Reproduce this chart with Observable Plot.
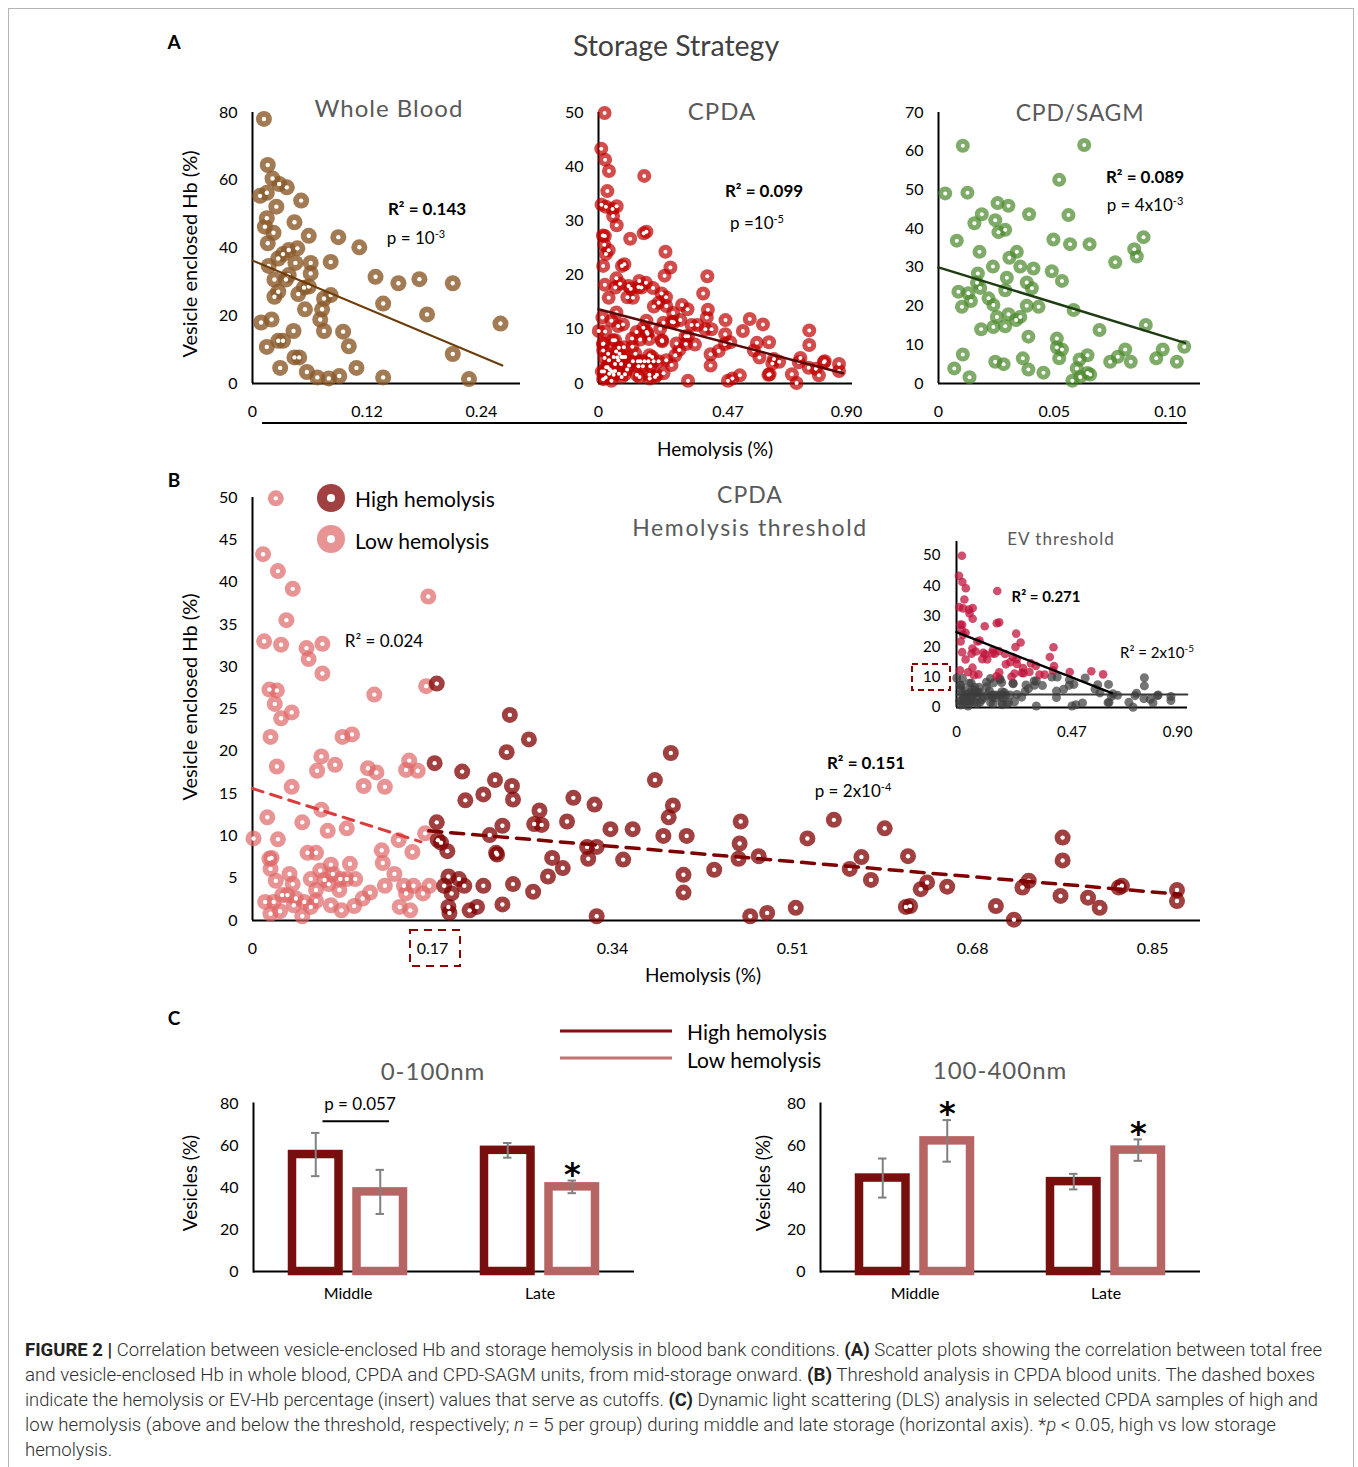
<!DOCTYPE html>
<html><head><meta charset="utf-8">
<script src="https://cdn.jsdelivr.net/npm/d3@7"></script>
<script src="https://cdn.jsdelivr.net/npm/@observablehq/plot@0.6"></script>
<style>
body{margin:0;background:#fff;}
#fig{position:relative;width:1358px;height:1467px;overflow:hidden;font-family:Lato,"Open Sans",sans-serif;background:#fff;}
.lab{position:absolute;white-space:nowrap;line-height:1;}
.cap{position:absolute;left:25px;white-space:nowrap;font-family:Roboto,"Liberation Sans",sans-serif;font-weight:300;font-size:17.5px;color:#2e2e2e;transform-origin:0 50%;line-height:1;}
.cap b{font-weight:700;color:#222;}
</style></head>
<body><div id="fig"></div>
<script>
// ---------------- DATA ----------------
// Panel A: Whole blood [hemolysis %, vesicle enclosed Hb %]
const wholeBlood = [[0.012,78.1],[0.016,64.5],[0.021,60.5],[0.036,57.9],[0.028,58.9],[0.008,55.4],[0.015,56.3],[0.025,52.2],[0.051,54.0],[0.015,48.8],[0.013,46.3],[0.022,44.5],[0.044,47.6],[0.016,41.4],[0.059,43.6],[0.090,43.2],[0.112,40.2],[0.027,36.9],[0.032,38.2],[0.038,39.4],[0.047,39.9],[0.045,35.6],[0.061,35.6],[0.082,35.9],[0.017,34.7],[0.061,32.5],[0.038,32.0],[0.035,30.7],[0.023,30.7],[0.129,31.5],[0.153,29.6],[0.175,30.8],[0.210,29.6],[0.027,27.1],[0.054,28.3],[0.059,28.6],[0.048,26.4],[0.023,25.6],[0.082,26.1],[0.075,25.1],[0.137,23.6],[0.055,21.9],[0.073,21.9],[0.071,18.9],[0.009,18.0],[0.020,18.9],[0.183,20.4],[0.260,17.7],[0.043,15.5],[0.075,15.5],[0.095,15.3],[0.015,10.8],[0.027,12.6],[0.032,12.6],[0.101,11.0],[0.210,8.7],[0.044,7.7],[0.049,7.7],[0.029,4.6],[0.057,3.4],[0.109,4.6],[0.068,1.8],[0.080,1.5],[0.091,2.2],[0.137,1.8],[0.227,1.3]];
// CPDA units, low hemolysis (< 0.17 %)
const cpdaLow = [[0.022,49.9],[0.010,43.3],[0.024,41.3],[0.038,39.2],[0.166,38.3],[0.032,35.5],[0.011,33.0],[0.027,32.6],[0.051,32.2],[0.066,32.7],[0.053,30.9],[0.066,29.2],[0.115,26.7],[0.016,27.3],[0.023,27.2],[0.021,25.6],[0.037,24.6],[0.027,23.9],[0.164,27.7],[0.017,21.7],[0.085,21.7],[0.094,22.0],[0.023,18.2],[0.065,19.4],[0.061,17.7],[0.078,18.4],[0.109,18.0],[0.117,17.5],[0.105,15.9],[0.125,15.8],[0.148,18.9],[0.145,17.8],[0.156,17.7],[0.037,15.8],[0.065,13.1],[0.014,12.2],[0.047,11.6],[0.071,10.6],[0.089,10.9],[0.001,9.7],[0.024,9.6],[0.138,9.5],[0.163,10.3],[0.151,8.1],[0.122,8.3],[0.016,7.3],[0.018,7.4],[0.017,6.1],[0.052,8.0],[0.060,8.0],[0.123,6.8],[0.134,5.5],[0.074,6.6],[0.092,6.7],[0.064,5.9],[0.035,5.5],[0.038,4.3],[0.022,4.7],[0.055,4.9],[0.060,3.6],[0.068,4.8],[0.076,5.5],[0.083,4.9],[0.089,4.9],[0.097,4.9],[0.072,4.3],[0.082,3.6],[0.104,2.6],[0.111,3.3],[0.125,4.1],[0.143,4.1],[0.152,4.1],[0.161,3.2],[0.167,4.1],[0.145,3.2],[0.028,3.0],[0.041,2.6],[0.033,3.0],[0.012,2.2],[0.020,2.2],[0.049,2.2],[0.060,2.3],[0.074,1.8],[0.096,1.7],[0.139,1.6],[0.149,1.2],[0.026,1.1],[0.017,0.8],[0.047,0.5],[0.055,1.6],[0.084,1.2],[0.039,1.8]];
// CPDA units, high hemolysis (>= 0.17 %)
const cpdaHigh = [[0.174,28.0],[0.172,18.6],[0.243,24.3],[0.261,21.4],[0.240,19.9],[0.198,17.6],[0.229,16.6],[0.245,15.9],[0.218,14.9],[0.201,14.2],[0.246,14.3],[0.271,13.0],[0.303,14.5],[0.323,13.7],[0.380,16.6],[0.395,19.8],[0.397,13.6],[0.393,12.2],[0.174,11.6],[0.236,11.2],[0.266,11.4],[0.273,11.3],[0.297,11.7],[0.338,10.8],[0.359,10.8],[0.388,10.0],[0.410,10.0],[0.224,10.1],[0.175,9.5],[0.178,9.2],[0.184,8.2],[0.230,8.0],[0.231,7.8],[0.283,7.4],[0.317,7.3],[0.325,8.7],[0.316,8.7],[0.350,7.2],[0.293,6.2],[0.279,5.2],[0.407,5.4],[0.407,3.3],[0.436,6.0],[0.185,5.2],[0.195,4.9],[0.200,4.1],[0.181,4.1],[0.188,3.2],[0.218,4.1],[0.246,4.3],[0.265,3.4],[0.236,1.9],[0.212,1.6],[0.205,1.2],[0.185,1.6],[0.186,0.9],[0.325,0.5],[0.461,11.7],[0.460,9.1],[0.459,7.3],[0.478,7.6],[0.470,0.5],[0.486,0.9],[0.513,1.5],[0.524,9.7],[0.549,11.9],[0.564,6.1],[0.575,7.5],[0.584,4.8],[0.597,10.9],[0.619,7.6],[0.617,1.6],[0.621,1.7],[0.631,3.7],[0.637,4.5],[0.656,4.0],[0.702,1.7],[0.719,0.1],[0.727,3.9],[0.733,4.7],[0.765,9.8],[0.765,7.1],[0.763,2.9],[0.789,2.7],[0.800,1.5],[0.818,3.9],[0.821,4.1],[0.873,3.6],[0.873,2.3]];
// CPD/SAGM units
const sagm = [[0.0105,61.4],[0.0629,61.6],[0.0029,49.1],[0.0125,49.3],[0.0521,52.6],[0.0255,46.6],[0.0302,45.9],[0.0187,43.7],[0.0245,42.2],[0.0155,41.4],[0.0391,43.7],[0.0561,43.5],[0.0079,36.9],[0.0259,39.1],[0.0288,39.7],[0.0496,37.2],[0.0568,36.0],[0.0652,36.0],[0.0885,37.8],[0.0845,34.7],[0.0856,32.8],[0.0763,31.3],[0.0177,34.0],[0.0338,34.0],[0.0306,32.5],[0.0353,30.2],[0.0235,30.2],[0.0410,29.7],[0.0489,29.0],[0.0170,28.4],[0.0295,27.3],[0.0533,26.5],[0.0166,26.0],[0.0381,26.1],[0.0403,24.6],[0.0288,24.1],[0.0086,23.7],[0.0129,23.3],[0.0180,24.7],[0.0216,22.0],[0.0140,21.3],[0.0101,19.8],[0.0237,20.3],[0.0381,20.1],[0.0432,19.8],[0.0583,19.0],[0.0252,17.2],[0.0302,17.9],[0.0335,16.4],[0.0353,17.2],[0.0288,14.8],[0.0237,14.6],[0.0184,14.0],[0.0695,13.8],[0.0895,15.1],[0.0388,12.1],[0.0511,11.6],[0.0511,9.3],[0.0533,8.8],[0.0105,7.5],[0.0643,7.3],[0.0806,8.8],[0.0774,6.9],[0.0741,5.6],[0.0968,8.8],[0.0940,6.5],[0.1029,5.6],[0.1061,9.5],[0.0830,5.6],[0.0245,5.6],[0.0281,5.0],[0.0364,6.5],[0.0388,3.6],[0.0521,6.5],[0.0609,6.2],[0.0597,3.9],[0.0643,2.7],[0.0655,2.3],[0.0578,0.7],[0.0612,1.7],[0.0453,2.8],[0.0068,3.9],[0.0134,1.6]];
// Trend lines (endpoints)
const wbTrend = [[0,36.3],[0.262,5.3]];
const cpdaTrend = [[0,13.7],[0.888,1.9]];
const sagmTrend = [[0,30.0],[0.1064,10.5]];
const lowTrend = [[0,15.6],[0.159,9.3]];
const highTrend = [[0.1665,10.6],[0.876,3.1]];
const evHighTrend = [[0,24.8],[0.633,4.7]];
const evLowTrend = [[0,4.3],[0.94,4.3]];
const evThreshold = 10;
// Tick labels
const wbXTicks = [0,0.12,0.24], wbYTicks = [0,20,40,60,80];
const cpdaXTicks = [0,0.47,0.90], cpdaYTicks = [0,10,20,30,40,50];
const sagmXTicks = [0,0.05,0.10], sagmYTicks = [0,10,20,30,40,50,60,70];
const bXTicks = [0,0.17,0.34,0.51,0.68,0.85], bYTicks = [0,5,10,15,20,25,30,35,40,45,50];
const evXTicks = [0,0.47,0.90], evYTicks = [0,10,20,30,40,50];
// Panel C: DLS
const dlsSizes = ["0-100nm","100-400nm"];
const dlsTimes = ["Middle","Late"];
const dlsMeanHigh = [[55.7,57.7],[44.5,42.8]];
const dlsErrHigh = [[10.3,3.5],[9.3,3.7]];
const dlsMeanLow = [[37.9,40.3],[62.2,57.8]];
const dlsErrLow = [[10.5,3.0],[9.9,5.1]];
const dlsSignificant = [[false,true],[true,true]];
const dlsYTicks = [0,20,40,60,80];

// ---------------- HELPERS ----------------
const fig = document.getElementById("fig");
const fmt2 = d => d === 0 ? "0" : d.toFixed(2);
function place(el, left, top, w){
  const d = document.createElement("div");
  d.style.cssText = `position:absolute;left:${left}px;top:${top}px;width:${w}px;`;
  d.appendChild(el); fig.appendChild(d);
}
function label(html, x, y, o = {}){
  const d = document.createElement("div");
  d.className = "lab";
  d.innerHTML = html;
  const tr = o.anchor === "start" ? "translate(0,-50%)" : "translate(-50%,-50%)";
  d.style.cssText += `left:${x}px;top:${y}px;font-size:${o.size||17}px;font-weight:${o.weight||400};color:${o.color||"#000"};letter-spacing:${o.ls||0}px;transform:${tr}${o.rotate ? " rotate(-90deg)" : ""};`;
  fig.appendChild(d);
}
const baseStyle = fs => ({fontSize: fs + "px", fontFamily: "Lato, 'Open Sans', sans-serif", color: "#000", background: "transparent", overflow: "visible", maxWidth: "none"});
const X = d => d[0], Y = d => d[1];

function scatter({w, h, m, xd, yd, xt, yt, series, lines, fs = 16, xp = 22, yp = 15}){
  const marks = [
    Plot.ruleY([yd[0]], {stroke: "#000", strokeWidth: 2}),
    Plot.ruleX([xd[0]], {stroke: "#000", strokeWidth: 2})
  ];
  for (const s of series){
    marks.push(Plot.dot(s.data, {x: X, y: Y, r: s.r, fill: s.color, fillOpacity: s.op, stroke: "none"}));
    if (s.hole) marks.push(Plot.dot(s.data, {x: X, y: Y, r: s.hole, fill: "#fff", stroke: "none"}));
  }
  for (const l of lines){
    marks.push(Plot.line(l.data, {x: X, y: Y, stroke: l.color, strokeWidth: l.width, strokeDasharray: l.dash || null}));
  }
  return Plot.plot({
    width: w, height: h, marginTop: m[0], marginRight: m[1], marginBottom: m[2], marginLeft: m[3],
    style: baseStyle(fs),
    x: {domain: xd, ticks: xt, tickFormat: fmt2, tickSize: 0, tickPadding: xp, label: null},
    y: {domain: yd, ticks: yt, tickFormat: d => String(d), tickSize: 0, tickPadding: yp, label: null},
    marks
  });
}

// ---------------- PANEL A ----------------
place(scatter({w: 340, h: 330, m: [17, 20, 42, 52], xd: [0, 0.281], yd: [0, 80], xt: wbXTicks, yt: wbYTicks,
  series: [{data: wholeBlood, r: 8, color: "#8b5a2b", op: 0.8, hole: 2.2}],
  lines: [{data: wbTrend, color: "#6e3b08", width: 2}]}), 200, 95, 340);

const cpdaAll = cpdaLow.concat(cpdaHigh);
place(scatter({w: 320, h: 330, m: [17, 13, 42, 53], xd: [0, 0.922], yd: [0, 50], xt: cpdaXTicks, yt: cpdaYTicks,
  series: [{data: cpdaAll, r: 7, color: "#c00000", op: 0.7, hole: 2}],
  lines: [{data: cpdaTrend, color: "#5a0808", width: 2.5}]}), 545, 95, 320);

place(scatter({w: 330, h: 330, m: [17, 15, 42, 53], xd: [0, 0.1131], yd: [0, 70], xt: sagmXTicks, yt: sagmYTicks,
  series: [{data: sagm, r: 7, color: "#4e8a2e", op: 0.72, hole: 2}],
  lines: [{data: sagmTrend, color: "#1d3c12", width: 2.5}]}), 885, 95, 330);

// ---------------- PANEL B ----------------
place(scatter({w: 1010, h: 500, m: [17, 10, 60, 52], xd: [0, 0.8952], yd: [0, 50], xt: bXTicks, yt: bYTicks,
  series: [
    {data: cpdaLow, r: 8, color: "#e06666", op: 0.7, hole: 2.2},
    {data: cpdaHigh, r: 8, color: "#800000", op: 0.75, hole: 2.2}
  ],
  lines: [
    {data: lowTrend, color: "#dd3a3a", width: 3, dash: "11,8"},
    {data: highTrend, color: "#7f0000", width: 3.5, dash: "13,9"}
  ]}), 200, 480, 1010);

// inset: EV threshold (CPDA units split at 10 % vesicle Hb)
place(scatter({w: 300, h: 215, m: [11, 13, 38, 56], xd: [0, 0.9406], yd: [0, 54.6], xt: evXTicks, yt: evYTicks, fs: 15, xp: 19, yp: 16,
  series: [
    {data: cpdaAll.filter(d => d[1] <= evThreshold), r: 4.5, color: "#404040", op: 0.72},
    {data: cpdaAll.filter(d => d[1] > evThreshold), r: 4.3, color: "#c0143c", op: 0.75}
  ],
  lines: [
    {data: evLowTrend, color: "#3a3a3a", width: 2},
    {data: evHighTrend, color: "#000", width: 2.5}
  ]}), 900, 530, 300);

// ---------------- PANEL C ----------------
function dlsRows(si){
  const rows = [];
  dlsTimes.forEach((t, ti) => {
    rows.push({time: t, group: "High", mean: dlsMeanHigh[si][ti], err: dlsErrHigh[si][ti], sig: false});
    rows.push({time: t, group: "Low", mean: dlsMeanLow[si][ti], err: dlsErrLow[si][ti], sig: dlsSignificant[si][ti]});
  });
  return rows;
}
function barChart(si, extra){
  const rows = dlsRows(si);
  const hi = rows.filter(d => d.group === "High"), lo = rows.filter(d => d.group === "Low");
  const off = 32.25, capInset = 51.3;
  const errMarks = (data, dx) => [
    Plot.ruleX(data, {x: "time", y1: d => d.mean - d.err, y2: d => d.mean + d.err, dx, stroke: "#808080", strokeWidth: 2}),
    Plot.tickY(data, {x: "time", y: d => d.mean + d.err, dx, insetLeft: capInset, insetRight: capInset, stroke: "#808080", strokeWidth: 2}),
    Plot.tickY(data, {x: "time", y: d => d.mean - d.err, dx, insetLeft: capInset, insetRight: capInset, stroke: "#808080", strokeWidth: 2})
  ];
  return Plot.plot({
    width: 450, height: 220, marginTop: 13, marginRight: si === 0 ? 16 : 17, marginBottom: 39, marginLeft: 53,
    style: baseStyle(16),
    x: {domain: dlsTimes, paddingInner: 0.42, paddingOuter: 0.2, tickSize: 0, tickPadding: 16, label: null},
    y: {domain: [0, 80], ticks: dlsYTicks, tickSize: 0, tickPadding: 15, label: null},
    marks: [
      Plot.ruleY([0], {stroke: "#000", strokeWidth: 2}),
      Plot.frame({anchor: "left", stroke: "#000", strokeWidth: 2}),
      Plot.barY(hi, {x: "time", y: "mean", fill: "#fff", stroke: "#780f0f", strokeWidth: 8.5, insetRight: 64.5}),
      Plot.barY(lo, {x: "time", y: "mean", fill: "#fff", stroke: "#b76464", strokeWidth: 8.5, insetLeft: 64.5}),
      ...errMarks(hi, -off),
      ...errMarks(lo, off),
      Plot.text(lo.filter(d => d.sig), {x: "time", y: d => d.mean + d.err, dx: off, dy: -6, text: () => "*", fontSize: 32, fontWeight: "bold", fontFamily: "'DejaVu Sans', sans-serif"}),
      ...(extra || [])
    ]
  });
}
const pNote = [{time: "Middle", y: 71.5, text: "p = 0.057"}];
place(barChart(0, [
  Plot.tickY(pNote, {x: "time", y: "y", insetLeft: 30.5, insetRight: 14, stroke: "#000", strokeWidth: 2}),
  Plot.text(pNote, {x: "time", y: "y", text: "text", dx: 12, dy: -17, fontSize: 17})
]), 200, 1090, 450);
place(barChart(1), 767, 1090, 450);

// ---------------- TEXT ----------------
const gray = "#595959";
label("A", 174, 41, {size: 19, weight: 700});
label("Storage Strategy", 676, 45, {size: 28.5, color: "#404040"});
label("Whole Blood", 389, 108, {size: 24, color: gray, ls: 1});
label("CPDA", 722, 111, {size: 24, color: gray, ls: 1});
label("CPD/SAGM", 1080, 112, {size: 23, color: gray, ls: 0.8});
label("Vesicle enclosed Hb (%)", 189, 254, {size: 20, rotate: true});
label("R² = 0.143", 427, 208, {size: 17, weight: 700});
label("p = 10<sup style='font-size:11px'>-3</sup>", 416, 237, {size: 17});
label("R² = 0.099", 764, 190, {size: 17, weight: 700});
label("p =10<sup style='font-size:11px'>-5</sup>", 757, 222, {size: 17});
label("R² = 0.089", 1145, 176, {size: 17, weight: 700});
label("p = 4x10<sup style='font-size:11px'>-3</sup>", 1145, 204, {size: 17});
label("Hemolysis (%)", 715, 448, {size: 19});

label("B", 174, 479, {size: 19, weight: 700});
label("High hemolysis", 355, 498, {size: 21, anchor: "start"});
label("Low hemolysis", 355, 540, {size: 21, anchor: "start"});
label("CPDA", 750, 494, {size: 23, color: gray, ls: 1});
label("Hemolysis threshold", 750, 527, {size: 23, color: gray, ls: 1.6});
label("EV threshold", 1061, 538, {size: 17, color: gray, ls: 1});
label("R² = 0.271", 1046, 596, {size: 15, weight: 700});
label("R² = 2x10<sup style='font-size:10px'>-5</sup>", 1157, 651, {size: 15});
label("Vesicle enclosed Hb (%)", 189, 697, {size: 20, rotate: true});
label("R² = 0.024", 384, 640, {size: 17});
label("R² = 0.151", 866, 762, {size: 17, weight: 700});
label("p = 2x10<sup style='font-size:11px'>-4</sup>", 853, 790, {size: 17});
label("Hemolysis (%)", 703, 974, {size: 19});

label("C", 174, 1017, {size: 19, weight: 700});
label("High hemolysis", 687, 1031, {size: 21, anchor: "start"});
label("Low hemolysis", 687, 1059, {size: 21, anchor: "start"});
label("0-100nm", 433, 1071, {size: 24, color: gray, ls: 1});
label("100-400nm", 1000, 1070, {size: 24, color: gray, ls: 1});
label("Vesicles (%)", 189, 1183, {size: 19, rotate: true});
label("Vesicles (%)", 762, 1183, {size: 19, rotate: true});

// ---------------- DECORATIONS (legend swatches, dashed boxes, rules) ----------------
const ns = "http://www.w3.org/2000/svg";
const deco = document.createElementNS(ns, "svg");
deco.setAttribute("width", 1358); deco.setAttribute("height", 1467);
deco.style.cssText = "position:absolute;left:0;top:0;pointer-events:none;";
deco.innerHTML = `
  <line x1="262" y1="423" x2="1187" y2="423" stroke="#000" stroke-width="2"/>
  <circle cx="331" cy="498" r="14" fill="#800000" fill-opacity="0.75"/><circle cx="331" cy="498" r="4" fill="#fff"/>
  <circle cx="331" cy="539" r="14" fill="#e06666" fill-opacity="0.7"/><circle cx="331" cy="539" r="4" fill="#fff"/>
  <rect x="410" y="930" width="50" height="36" fill="none" stroke="#8b0000" stroke-width="2" stroke-dasharray="8,6"/>
  <rect x="912" y="664" width="38" height="26" fill="none" stroke="#8b0000" stroke-width="2" stroke-dasharray="6,4"/>
  <line x1="560" y1="1031" x2="672" y2="1031" stroke="#7f1010" stroke-width="3"/>
  <line x1="560" y1="1058" x2="672" y2="1058" stroke="#c27474" stroke-width="3"/>
`;
fig.appendChild(deco);

// frame border
const border = document.createElement("div");
border.style.cssText = "position:absolute;left:8px;top:8px;width:1346px;height:1500px;border:1px solid #b5b5b5;box-sizing:border-box;pointer-events:none;";
fig.appendChild(border);

// ---------------- CAPTION ----------------
const capLines = [
  "<b>FIGURE 2 |</b> Correlation between vesicle-enclosed Hb and storage hemolysis in blood bank conditions. <b>(A)</b> Scatter plots showing the correlation between total free",
  "and vesicle-enclosed Hb in whole blood, CPDA and CPD-SAGM units, from mid-storage onward. <b>(B)</b> Threshold analysis in CPDA blood units. The dashed boxes",
  "indicate the hemolysis or EV-Hb percentage (insert) values that serve as cutoffs. <b>(C)</b> Dynamic light scattering (DLS) analysis in selected CPDA samples of high and",
  "low hemolysis (above and below the threshold, respectively; <i>n</i> = 5 per group) during middle and late storage (horizontal axis). *<i>p</i> &lt; 0.05, high vs low storage",
  "hemolysis."
];
const capWidths = [1297, 1290, 1293, 1251, null];
const capEls = capLines.map((html, i) => {
  const d = document.createElement("div");
  d.className = "cap"; d.innerHTML = html;
  d.style.top = (1351 + 25 * i) + "px";
  d.style.marginTop = "-9px";
  fig.appendChild(d);
  return d;
});
function fitCaption(){
  let sum = 0, n = 0;
  capEls.forEach((el, i) => {
    el.style.transform = "none";
    if (capWidths[i]){
      const s = capWidths[i] / el.getBoundingClientRect().width;
      el.style.transform = `scaleX(${s})`; sum += s; n++;
    }
  });
  capEls[4].style.transform = `scaleX(${sum / n})`;
}
fitCaption();
if (document.fonts && document.fonts.ready) document.fonts.ready.then(fitCaption);
</script>
</body></html>
